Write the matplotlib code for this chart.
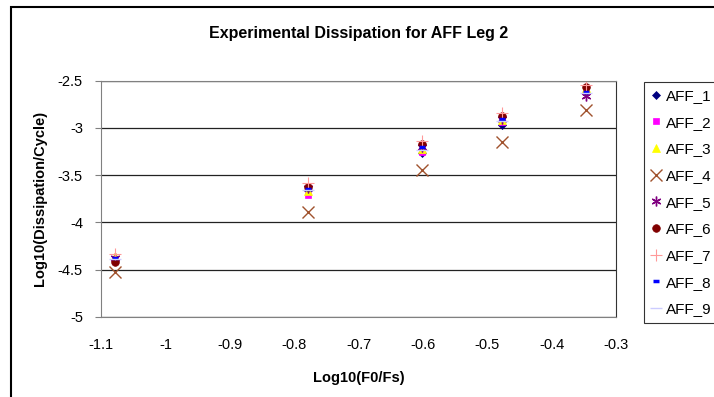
import matplotlib.pyplot as plt
from matplotlib.patches import Rectangle

# x: Log10(F0/Fs) for the five test frequencies
x_vals = [-1.079, -0.778, -0.602, -0.477, -0.347]

# Log10(Dissipation/Cycle) per specimen
aff_1 = [-4.40, -3.66, -3.27, -2.97, -2.63]
aff_2 = [-4.41, -3.71, -3.25, -2.94, -2.60]
aff_3 = [-4.35, -3.67, -3.22, -2.92, -2.58]
aff_4 = [-4.52, -3.89, -3.45, -3.15, -2.81]
aff_5 = [-4.38, -3.64, -3.20, -2.90, -2.66]
aff_6 = [-4.42, -3.62, -3.17, -2.87, -2.57]
aff_7 = [-4.33, -3.58, -3.14, -2.84, -2.55]
aff_8 = [-4.38, -3.65, -3.20, -2.90, -2.62]
aff_9 = [-4.39, -3.66, -3.23, -2.93, -2.63]

series = ["AFF_1", "AFF_2", "AFF_3", "AFF_4", "AFF_5", "AFF_6", "AFF_7", "AFF_8", "AFF_9"]
values = [aff_1, aff_2, aff_3, aff_4, aff_5, aff_6, aff_7, aff_8, aff_9]

# marker, colour, size, edge width
styles = [
    ("D", "#000080", 4.5, 0.5),
    ("s", "#FF00FF", 5, 0.5),
    ("^", "#FFFF00", 6, 0.5),
    ("x", "#A0522D", 9, 1.0),
    ((6, 2, 0), "#800080", 7, 1.0),
    ("o", "#800000", 5.5, 0.5),
    ("+", "#FF9999", 8, 0.8),
    ("_", "#0000FF", 5, 2.5),
    ("_", "#CCCCFF", 8, 1.0),
]

plt.rcParams['font.family'] = ['Liberation Sans', 'DejaVu Sans']

fig = plt.figure(figsize=(7.14, 3.97), dpi=100)
ax = fig.add_axes([101 / 714, 1 - 317 / 397, 515 / 714, 236.3 / 397])

for name, vals, (m, c, s, lw) in zip(series, values, styles):
    if m in ("x", "+", "_", (6, 2, 0)):
        ax.plot(x_vals, vals, linestyle="none", marker=m, color=c, markersize=s,
                markeredgewidth=lw, label=name)
    else:
        ax.plot(x_vals, vals, linestyle="none", marker=m, markerfacecolor=c,
                markeredgecolor=c, markersize=s, markeredgewidth=lw, label=name)

ax.set_xlim(-1.1, -0.3)
ax.set_ylim(-5, -2.5)
ax.set_xticks([-1.1, -1, -0.9, -0.8, -0.7, -0.6, -0.5, -0.4, -0.3])
ax.set_xticklabels(["-1.1", "-1", "-0.9", "-0.8", "-0.7", "-0.6", "-0.5", "-0.4", "-0.3"])
ax.set_yticks([-5, -4.5, -4, -3.5, -3, -2.5])
ax.set_yticklabels(["-5", "-4.5", "-4", "-3.5", "-3", "-2.5"])
ax.tick_params(axis="x", length=0, pad=15, labelsize=10.5)
ax.tick_params(axis="y", length=4, pad=9, labelsize=10.5, color="#808080")
ax.yaxis.grid(True, color="#222222", linewidth=0.9)
ax.set_axisbelow(True)
for sp in ax.spines.values():
    sp.set_color("#808080")
ax.spines["right"].set_color("#333333")

ax.set_title("Experimental Dissipation for AFF Leg 2", fontsize=11.5, fontweight="bold", pad=31)
ax.set_xlabel("Log10(F0/Fs)", fontsize=10.5, fontweight="bold", labelpad=14)
ax.set_ylabel("Log10(Dissipation/Cycle)", fontsize=10.5, fontweight="bold", labelpad=8)

leg = fig.legend(loc="upper left", bbox_to_anchor=(644 / 714, 1 - 82 / 397),
                 frameon=True, fancybox=False, fontsize=11, labelspacing=0.83,
                 handlelength=0.7, handletextpad=0.3, borderpad=0.45, borderaxespad=0)
leg.get_frame().set_edgecolor("#000000")
leg.get_frame().set_linewidth(0.8)

# outer chart border
fig.patches.append(Rectangle((11 / 714, -0.1), 2, 1.1 - 7 / 397, transform=fig.transFigure,
                             fill=False, edgecolor="#000000", linewidth=1.5))

fig.savefig("out.png", dpi=100)
